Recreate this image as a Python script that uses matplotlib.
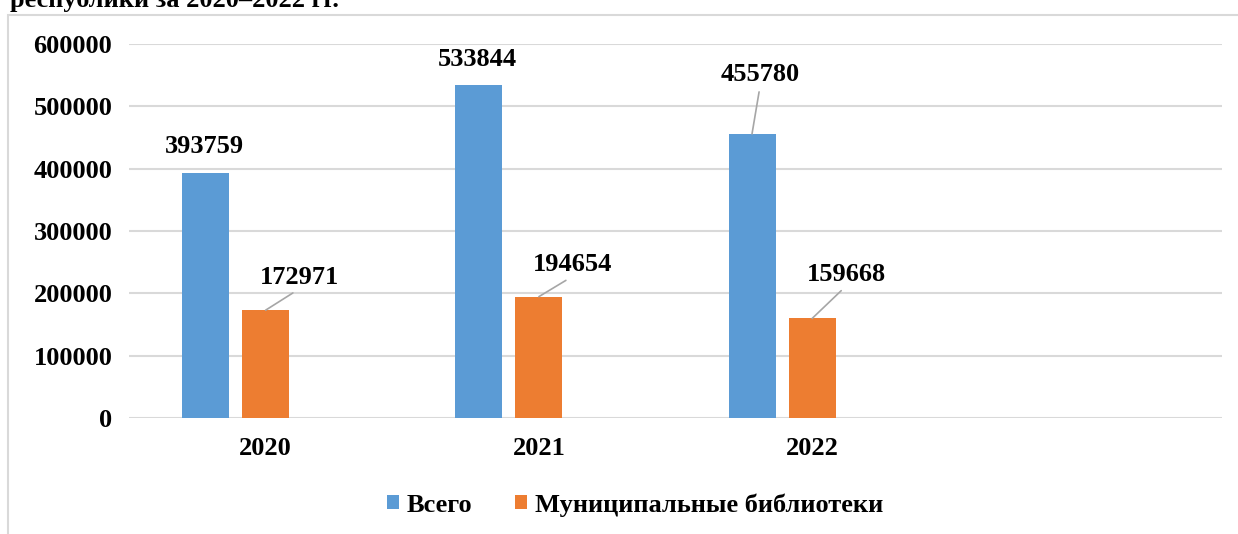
import numpy as np
import matplotlib
matplotlib.use('Agg')
import matplotlib.pyplot as plt
from matplotlib.patches import Rectangle

years = ['2020', '2021', '2022', '']
total = [393759, 533844, 455780]
municipal = [172971, 194654, 159668]
series_names = ['Всего', 'Муниципальные библиотеки']
yticks = [0, 100000, 200000, 300000, 400000, 500000, 600000]

BLUE = '#5B9BD5'
ORANGE = '#ED7D31'
GRID = '#d9d9d9'
FONT = 'Liberation Serif'
FS = 19

W, H = 1238, 534
fig = plt.figure(figsize=(W / 100, H / 100), dpi=100)
ax = fig.add_axes([129 / W, 1 - 418 / H, (1222 - 129) / W, (418 - 44) / H])

# cut-off caption above the chart frame
fig.text(10 / W, 1 - 7 / H, 'республики за 2020–2022 гг.', fontsize=FS,
         fontweight='bold', family=FONT, va='baseline', ha='left')

# chart frame
fig.patches.append(Rectangle((8 / W, -0.1), 2, (H - 15) / H + 0.1, fill=False,
                             edgecolor=GRID, lw=1.5, transform=fig.transFigure))

x = np.arange(len(total))
step = 0.22
width = 0.172
b1 = ax.bar(x - step, total, width, color=BLUE, label=series_names[0], zorder=3)
b2 = ax.bar(x, municipal, width, color=ORANGE, label=series_names[1], zorder=3)

ax.set_xlim(-0.5, len(years) - 0.5)
ax.set_ylim(0, 600000)
ax.set_yticks(yticks)
ax.set_yticklabels([str(v) for v in yticks])
ax.set_xticks(np.arange(len(years)))
ax.set_xticklabels(years)
for lbl in ax.get_xticklabels() + ax.get_yticklabels():
    lbl.set_fontsize(FS)
    lbl.set_fontweight('bold')
    lbl.set_family(FONT)
ax.tick_params(axis='both', length=0)
ax.tick_params(axis='y', pad=12)
ax.tick_params(axis='x', pad=14)
ax.grid(axis='y', color=GRID, lw=1.5, zorder=0)
for s in ax.spines.values():
    s.set_visible(False)

# data labels (pixel offsets from bar top)
blue_off = [(-1, 26), (-1, 26), (8, 59)]
orange_off = [(34, 33), (34, 32), (34, 44)]
line = dict(arrowstyle='-', color='#a6a6a6', lw=1.2, shrinkA=2, shrinkB=0,
            relpos=(0.5, 0.0))
for bars, vals, offs in [(b1, total, blue_off), (b2, municipal, orange_off)]:
    for bar, v, (dx, dy) in zip(bars, vals, offs):
        cx = bar.get_x() + bar.get_width() / 2
        props = line if (dx > 5 or dy > 40) else None
        ax.annotate(str(v), xy=(cx, v), xytext=(dx, dy), textcoords='offset pixels',
                    ha='center', va='center', fontsize=FS, fontweight='bold',
                    family=FONT, arrowprops=props, zorder=4)

leg = fig.legend(handles=[b1, b2], loc='center', bbox_to_anchor=(635 / W, 1 - 505 / H),
                 ncol=2, frameon=False, handlelength=0.45, handleheight=0.45,
                 handletextpad=0.3, columnspacing=1.6,
                 prop={'family': FONT, 'size': FS, 'weight': 'bold'})

fig.savefig('out.png', dpi=100)
